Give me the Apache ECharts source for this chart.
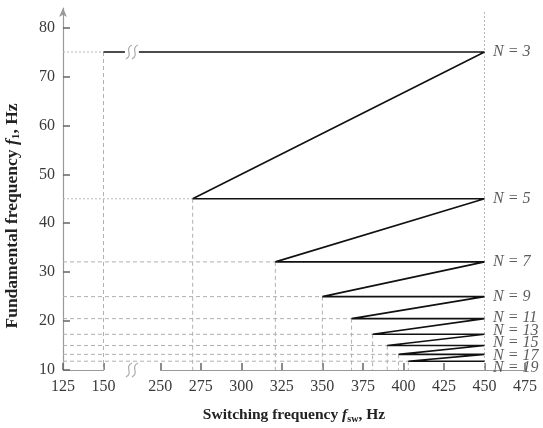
<!DOCTYPE html>
<html>
<head>
<meta charset="utf-8">
<script src="https://cdn.jsdelivr.net/npm/echarts@6/dist/echarts.min.js"></script>
<style>
  html, body { margin: 0; padding: 0; background: #fff; }
  #chart { width: 543px; height: 428px; }
</style>
</head>
<body>
<div id="chart"></div>
<script>
'use strict';
// harmonic order N, fundamental frequency of each level and the switching frequency where it starts
const harmonicN = [3, 5, 7, 9, 11, 13, 15, 17, 19];
const fundamentalHz = [75, 45, 32.1, 25, 20.5, 17.3, 15, 13.2, 11.8];
const startFswHz = [150, 270, 321, 350, 368, 381, 390, 397, 403];
const yTicks = [10, 20, 30, 40, 50, 60, 70, 80];
const maxFswHz = 450;
const topGuideHz = 83.5;
const breakStart = 150;
const breakEnd = 250;

const SERIF = '"Liberation Serif", "Times New Roman", serif';

function nameRich(size) {
    return {
        b: { fontFamily: SERIF, fontWeight: 'bold', fontSize: size, color: '#222' },
        i: { fontFamily: SERIF, fontWeight: 'bold', fontStyle: 'italic', fontSize: size, color: '#222' },
        s: { fontFamily: SERIF, fontWeight: 'bold', fontSize: size * 0.65, color: '#222', padding: [8, 0, 0, 0] },
    };
}

// push overlapping labels apart, keeping each group centred on where it started
function spreadLabels(ys, gap) {
    const order = ys.map((y, i) => i).sort((a, b) => ys[a] - ys[b]);
    const clusters = [];
    order.forEach((idx) => {
        let c = { members: [idx], sumAdj: ys[idx] };
        while (clusters.length) {
            const p = clusters[clusters.length - 1];
            const pTop = p.sumAdj / p.members.length;
            const pBottom = pTop + (p.members.length - 1) * gap;
            const cTop = c.sumAdj / c.members.length;
            if (cTop - pBottom >= gap) break;
            clusters.pop();
            c = {
                members: p.members.concat(c.members),
                sumAdj: p.sumAdj + c.sumAdj - c.members.length * p.members.length * gap,
            };
        }
        clusters.push(c);
    });
    const out = ys.slice();
    clusters.forEach((c) => {
        const top = c.sumAdj / c.members.length;
        c.members.forEach((idx, k) => { out[idx] = top + k * gap; });
    });
    return out;
}

function init() {
    const chart = echarts.init(document.getElementById('chart'));

    // zigzag: each level runs start -> 450, then drops to the next level's start
    const zigzag = [];
    fundamentalHz.forEach((f, i) => {
        zigzag.push([startFswHz[i], f]);
        zigzag.push([maxFswHz, f]);
    });

    const guide = (data, type) => ({
        type: 'line',
        data: data,
        symbol: 'none',
        silent: true,
        z: 1,
        lineStyle: {
            color: type === 'dot' ? '#b8b8b8' : '#b0b0b0',
            width: 1,
            type: type === 'dot' ? [2, 2] : [4, 3],
        },
    });

    const guides = [];
    fundamentalHz.forEach((f, i) => {
        const kind = i < 2 ? 'dot' : 'dash';
        guides.push(guide([[125, f], [startFswHz[i], f]], kind));
        guides.push(guide([[startFswHz[i], f], [startFswHz[i], 10]], 'dash'));
    });
    guides.push(guide([[maxFswHz, 10], [maxFswHz, topGuideHz]], 'dot'));

    const labelData = harmonicN.map((n, i) => ({ name: 'N = ' + n, value: [maxFswHz, fundamentalHz[i]] }));

    const option = {
        animation: false,
        grid: { left: 63, right: 18, top: 8, bottom: 58, outerBoundsMode: 'none', containLabel: false },
        xAxis: {
            type: 'value',
            min: 125,
            max: 475,
            interval: 25,
            breaks: [{ start: breakStart, end: breakEnd, gap: 35 }],
            breakArea: { show: false },
            name: '{b|Switching frequency }{i|f}{s|sw}{b|, Hz}',
            nameLocation: 'middle',
            nameGap: 36,
            nameTextStyle: { rich: nameRich(15.5) },
            axisLine: { lineStyle: { color: '#999', width: 1.2 } },
            axisTick: { show: true, inside: true, length: 7, lineStyle: { color: '#666', width: 1.5 } },
            axisLabel: { fontFamily: SERIF, fontSize: 16, color: '#3a3a3a', margin: 9 },
            splitLine: { show: false },
        },
        yAxis: {
            type: 'value',
            min: 10,
            max: 84,
            interval: 10,
            name: '{b|Fundamental frequency }{i|f}{s|1}{b|, Hz}',
            nameLocation: 'middle',
            nameGap: 41,
            nameTextStyle: { rich: nameRich(17.5), padding: [0, 54, 0, 0] },
            axisLine: {
                show: true,
                symbol: ['none', 'arrow'],
                symbolSize: [6, 9],
                lineStyle: { color: '#999', width: 1.2 },
            },
            axisTick: {
                show: true,
                inside: true,
                length: 7,
                customValues: yTicks,
                lineStyle: { color: '#666', width: 1.5 },
            },
            axisLabel: { fontFamily: SERIF, fontSize: 16, color: '#3a3a3a', margin: 8, customValues: yTicks },
            splitLine: { show: false },
        },
        series: guides.concat([
            {
                type: 'line',
                data: zigzag,
                symbol: 'none',
                z: 3,
                lineStyle: { color: '#111', width: 1.6 },
            },
            {
                // N = ... labels at the right end of each level
                id: 'labels',
                type: 'scatter',
                symbolSize: 1,
                itemStyle: { color: 'rgba(0,0,0,0)' },
                data: labelData,
                label: {
                    show: true,
                    position: 'right',
                    distance: 8,
                    formatter: '{b}',
                    fontFamily: SERIF,
                    fontStyle: 'italic',
                    fontSize: 16,
                    color: '#333',
                },
                z: 4,
            },
            {
                // break marks on the axis and the N = 3 line
                type: 'custom',
                clip: false,
                z: 5,
                silent: true,
                data: [[breakStart, fundamentalHz[0]], [breakStart, 10]],
                renderItem: (params, api) => {
                    const a = api.coord([breakStart, api.value(1)]);
                    const b = api.coord([breakEnd, api.value(1)]);
                    const cx = (a[0] + b[0]) / 2;
                    const cy = a[1];
                    const curve = (dx) => ({
                        type: 'bezierCurve',
                        shape: {
                            x1: cx + dx - 3, y1: cy + 7,
                            x2: cx + dx + 3, y2: cy - 7,
                            cpx1: cx + dx + 5, cpy1: cy + 3,
                            cpx2: cx + dx - 5, cpy2: cy - 3,
                        },
                        style: { stroke: '#aaa', lineWidth: 1.2, fill: null },
                    });
                    return {
                        type: 'group',
                        children: [
                            { type: 'rect', shape: { x: cx - 7, y: cy - 2, width: 14, height: 4 }, style: { fill: '#fff' } },
                            curve(-3),
                            curve(3),
                        ],
                    };
                },
            },
        ]),
    };

    chart.setOption(option);

    // spread the crowded N labels using the pixel positions from the axis
    const ys = fundamentalHz.map((f) => chart.convertToPixel({ gridIndex: 0 }, [maxFswHz, f])[1]);
    const spread = spreadLabels(ys, 12.5);
    chart.setOption({
        series: [{
            id: 'labels',
            data: labelData.map((d, i) => Object.assign({}, d, { label: { offset: [0, spread[i] - ys[i]] } })),
        }],
    });
}

init();
</script>
</body>
</html>
